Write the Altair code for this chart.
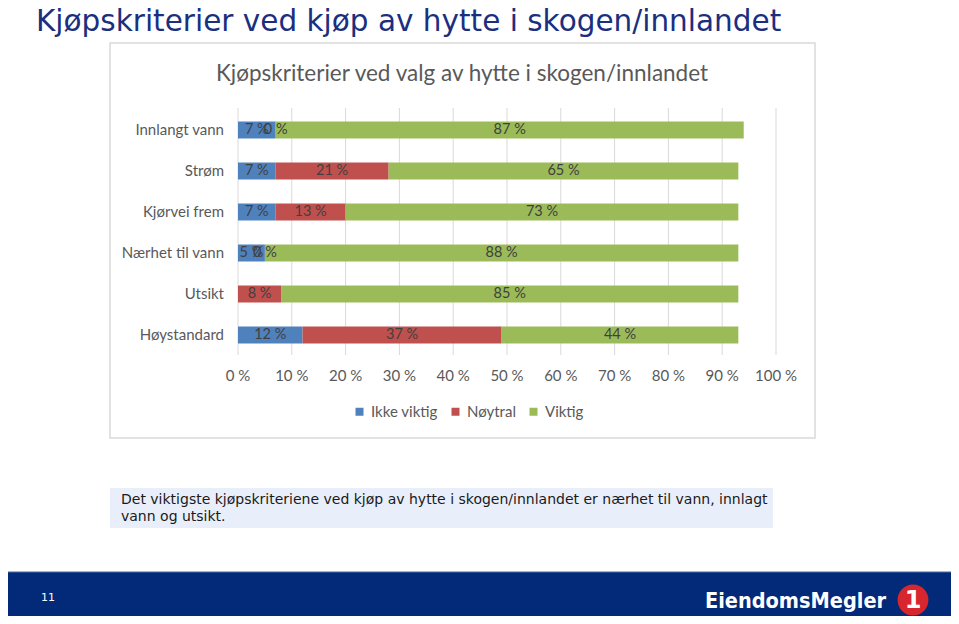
import altair as alt
import pandas as pd

# ---- data ----
criteria = ["Innlangt vann", "Strøm", "Kjørvei frem", "Nærhet til vann", "Utsikt", "Høystandard"]
categories = ["Ikke viktig", "Nøytral", "Viktig"]
ikke_viktig = [7, 7, 7, 5, None, 12]
noytral = [0, 21, 13, 0, 8, 37]
viktig = [87, 65, 73, 88, 85, 44]
colors = ["#4F81BD", "#C0504D", "#9BBB59"]
ticks = [0, 10, 20, 30, 40, 50, 60, 70, 80, 90, 100]

slide_title = "Kjøpskriterier ved kjøp av hytte i skogen/innlandet"
chart_title = "Kjøpskriterier ved valg av hytte i skogen/innlandet"
caption = ["Det viktigste kjøpskriteriene ved kjøp av hytte i skogen/innlandet er nærhet til vann, innlagt",
           "vann og utsikt."]
page_no = "11"
logo_text = "EiendomsMegler"

# ---- build table ----
rows = []
for i, c in enumerate(criteria):
    acc = 0
    for cat, series in zip(categories, [ikke_viktig, noytral, viktig]):
        v = series[i]
        if v is None:
            continue
        rows.append({"crit": c, "cat": cat, "value": v, "start": acc, "end": acc + v,
                     "mid": acc + v / 2, "label": f"{v} %"})
        acc += v
df = pd.DataFrame(rows)
tick_df = pd.DataFrame({"t": ticks, "lab": [f"{t} %" for t in ticks]})
crit_df = pd.DataFrame({"crit": criteria})

FONT = "Lato"
GRAY = "#595959"

xscale = alt.Scale(domain=[0, 100], range=[230, 768], nice=False, zero=False)
yscale = alt.Scale(domain=criteria, range=[101.5, 347.5], paddingInner=0.585, paddingOuter=0.2925)

# background boxes
box = alt.Chart(pd.DataFrame({"k": [0]})).mark_rect(fill="white", stroke="#D9D9D9", strokeWidth=1.5).encode(
    x=alt.value(102), x2=alt.value(807), y=alt.value(35), y2=alt.value(430))
cap_box = alt.Chart(pd.DataFrame({"k": [0]})).mark_rect(fill="#E9EFFA").encode(
    x=alt.value(102), x2=alt.value(765), y=alt.value(480), y2=alt.value(520))
footer = alt.Chart(pd.DataFrame({"k": [0]})).mark_rect(fill="#022A78").encode(
    x=alt.value(0), x2=alt.value(943), y=alt.value(564), y2=alt.value(608))
footer_line = alt.Chart(pd.DataFrame({"k": [0]})).mark_rule(color="#4A6AA8", strokeWidth=1).encode(
    x=alt.value(0), x2=alt.value(943), y=alt.value(564))

grid = alt.Chart(tick_df).mark_rule(color="#D9D9D9", strokeWidth=1).encode(
    x=alt.X("t:Q", scale=xscale, axis=None), y=alt.value(100), y2=alt.value(347))
tick_labels = alt.Chart(tick_df).mark_text(font=FONT, fontSize=15, color=GRAY, baseline="middle").encode(
    x=alt.X("t:Q", scale=xscale, axis=None), y=alt.value(368), text="lab:N")

bars = alt.Chart(df).mark_bar(cornerRadius=0).encode(
    x=alt.X("start:Q", scale=xscale, axis=None),
    x2="end:Q",
    y=alt.Y("crit:N", scale=yscale, axis=None, sort=criteria),
    color=alt.Color("cat:N", scale=alt.Scale(domain=categories, range=colors),
                    legend=alt.Legend(orient="none", legendX=344, legendY=396, direction="horizontal",
                                      title=None, symbolType="square", symbolSize=64,
                                      symbolStrokeWidth=0, labelFont=FONT, labelFontSize=15,
                                      labelColor=GRAY, columnPadding=10, labelOffset=4, padding=0)),
)
bar_labels = alt.Chart(df).mark_text(font=FONT, fontSize=14.5, color="#404040", baseline="middle").encode(
    x=alt.X("mid:Q", scale=xscale, axis=None),
    y=alt.Y("crit:N", scale=yscale, axis=None, sort=criteria),
    text="label:N")
crit_labels = alt.Chart(crit_df).mark_text(font=FONT, fontSize=15, color=GRAY, align="right", baseline="middle").encode(
    x=alt.value(216), y=alt.Y("crit:N", scale=yscale, axis=None, sort=criteria), text="crit:N")

def txt(s, x, y, **kw):
    return alt.Chart(pd.DataFrame({"s": [s]})).mark_text(**kw).encode(
        x=alt.value(x), y=alt.value(y), text="s:N")

t_slide = txt(slide_title, 28, 0, font="DejaVu Sans", fontSize=29.5, color="#1B2F80", align="left", baseline="top")
t_chart = txt(chart_title, 454, 66, font=FONT, fontSize=22.5, color=GRAY, align="center", baseline="middle")
t_cap1 = txt(caption[0], 113, 492, font="DejaVu Sans", fontSize=14, color="#1A1A1A", align="left", baseline="middle")
t_cap2 = txt(caption[1], 113, 509, font="DejaVu Sans", fontSize=14, color="#1A1A1A", align="left", baseline="middle")
t_page = txt(page_no, 40, 590, font="DejaVu Sans", fontSize=11, color="white", align="center", baseline="middle")
t_logo = txt(logo_text, 697, 600, font="DejaVu Sans Condensed", fontSize=21.5, fontWeight="bold", color="white",
             align="left", baseline="alphabetic")
logo_circle = alt.Chart(pd.DataFrame({"k": [0]})).mark_point(filled=True, shape="circle", size=950,
                                                             color="#D7262E", opacity=1).encode(
    x=alt.value(905), y=alt.value(592))
logo_one = txt("1", 905, 593, font="DejaVu Sans", fontSize=24, fontWeight="bold", color="white",
               align="center", baseline="middle")

chart = alt.layer(
    box, cap_box, footer, footer_line, grid, tick_labels, bars, bar_labels, crit_labels,
    t_slide, t_chart, t_cap1, t_cap2, t_page, t_logo, logo_circle, logo_one
).properties(
    width=943, height=608, autosize=alt.AutoSizeParams(type="none"), padding=0, background="white"
).configure_view(stroke=None)

chart.save("out.html", embed_options={"renderer": "svg", "actions": False})
